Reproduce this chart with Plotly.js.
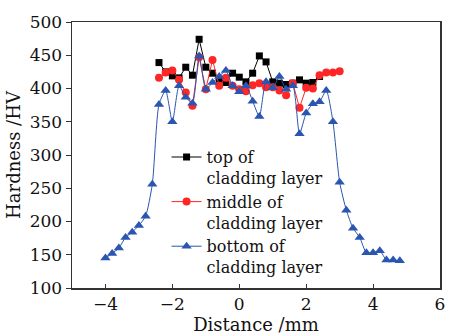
<!DOCTYPE html>
<html>
<head>
<meta charset="utf-8">
<script src="https://cdn.plot.ly/plotly-3.0.1.min.js"></script>
<style>html,body{margin:0;padding:0;background:#fff;}#chart{width:456px;height:336px;}</style>
</head>
<body>
<div id="chart"></div>
<script>
// Distance (mm) for each series
var xTop = [-2.4,-2.2,-2.0,-1.8,-1.6,-1.4,-1.2,-1.0,-0.8,-0.6,-0.4,-0.2,0,0.2,0.4,0.6,0.8,1.0,1.2,1.4,1.6,1.8,2.0,2.2,2.4];
var hardTop = [439,425,419,416,432,420,474,432,423,414,409,423,417,410,423,449,440,410,408,406,408,413,408,409,418];

var xMiddle = [-2.4,-2.2,-2.0,-1.8,-1.6,-1.4,-1.2,-1.0,-0.8,-0.6,-0.4,-0.2,0,0.2,0.4,0.6,0.8,1.0,1.2,1.4,1.6,1.8,2.0,2.2,2.4,2.6,2.8,3.0];
var hardMiddle = [416,424,427,413,394,374,447,399,443,404,416,404,399,396,405,408,402,402,397,390,408,371,401,400,420,424,424,426];

var xBottom = [-4.0,-3.8,-3.6,-3.4,-3.2,-3.0,-2.8,-2.6,-2.4,-2.2,-2.0,-1.8,-1.6,-1.4,-1.2,-1.0,-0.8,-0.6,-0.4,-0.2,0,0.2,0.4,0.6,0.8,1.0,1.2,1.4,1.6,1.8,2.0,2.2,2.4,2.6,2.8,3.0,3.2,3.4,3.6,3.8,4.0,4.2,4.4,4.6,4.8];
var hardBottom = [145,152,160,176,184,194,208,256,376,397,350,404,387,378,449,399,409,418,427,404,395,404,381,358,410,401,418,399,404,332,363,377,380,397,350,259,217,190,176,153,153,156,142,142,141];

var seriesNames = ['top of<br>cladding layer','middle of<br>cladding layer','bottom of<br>cladding layer'];
var xTicks = [-4,-2,0,2,4,6];
var yTicks = [100,150,200,250,300,350,400,450,500];

var font = 'DejaVu Serif, serif';
var traces = [
  {x:xTop, y:hardTop, name:seriesNames[0], mode:'lines+markers', type:'scatter',
   line:{color:'#000000', width:1}, marker:{symbol:'square', size:7, color:'#000000'}},
  {x:xMiddle, y:hardMiddle, name:seriesNames[1], mode:'lines+markers', type:'scatter',
   line:{color:'#ff2626', width:1}, marker:{symbol:'circle', size:8, color:'#ff2626'}},
  {x:xBottom, y:hardBottom, name:seriesNames[2], mode:'lines+markers', type:'scatter',
   line:{color:'#2a55b0', width:1, shape:'spline', smoothing:0.6}, marker:{symbol:'triangle-up', size:9, color:'#2a55b0'}}
];
var layout = {
  width:456, height:336,
  margin:{l:72, r:16, t:22, b:48},
  paper_bgcolor:'#fff', plot_bgcolor:'#fff',
  font:{family:font, size:17, color:'#111'},
  showlegend:true,
  legend:{x:0.257, y:0.556, xanchor:'left', yanchor:'top', bgcolor:'rgba(0,0,0,0)',
          font:{family:font, size:16, color:'#111'}, valign:'top', tracegroupgap:0},
  xaxis:{range:[-5,6], tickvals:xTicks, ticktext:xTicks.map(function(v){return v<0?'\u2212'+Math.abs(v):String(v);}),
         ticks:'inside', ticklen:4, tickwidth:1, tickcolor:'#333',
         showline:true, linecolor:'#333', linewidth:1.5, mirror:true, showgrid:false, zeroline:false,
         title:{text:'Distance /mm', font:{family:font, size:18}, standoff:2},
         tickfont:{family:font, size:17}},
  yaxis:{range:[100,500], tickvals:yTicks,
         ticks:'outside', ticklen:5, tickwidth:1, tickcolor:'#333',
         showline:true, linecolor:'#333', linewidth:1.5, mirror:true, showgrid:false, zeroline:false,
         title:{text:'Hardness /HV', font:{family:font, size:18}, standoff:4},
         tickfont:{family:font, size:17}}
};
Plotly.newPlot('chart', traces, layout, {displayModeBar:false, staticPlot:true});
</script>
</body>
</html>
